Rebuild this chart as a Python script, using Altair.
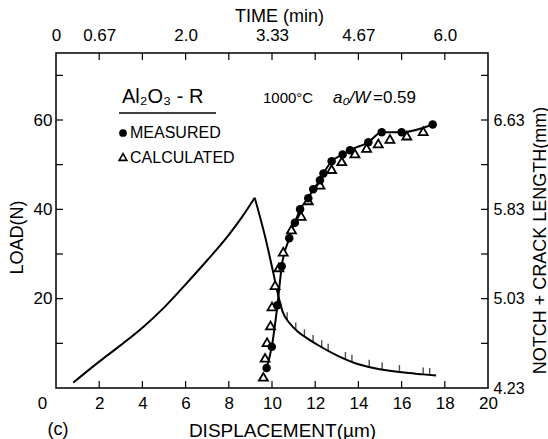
import altair as alt
import pandas as pd
import numpy as np

FONT = "Liberation Sans"

# ---- data ----
# load-displacement curve (left axis, N): rising branch then falling branch
rise_disp = [0.8, 2.0, 3.0, 4.0, 5.0, 6.0, 7.0, 8.0, 8.6, 9.2]
rise_load = [1.2, 5.9, 9.6, 13.5, 18.0, 23.2, 28.6, 34.3, 38.2, 42.6]
fall_disp = [9.2, 9.7, 10.05, 10.3, 10.5, 10.8, 11.2, 11.7, 12.2, 13.0, 14.0,
             15.0, 16.0, 17.0, 17.6]
fall_load = [42.6, 33.5, 26.0, 20.5, 17.0, 14.6, 12.6, 10.9, 9.4, 7.3, 5.3,
             4.2, 3.5, 3.05, 2.8]
# small hash marks on the descending branch
hash_disp = [10.7, 11.1, 11.5, 11.9, 12.3, 12.6, 13.4, 13.7, 14.5, 15.1, 15.9, 17.0, 17.3]

# notch + crack length (right axis, mm)
meas_disp = [9.75, 9.99, 10.25, 10.45, 10.8, 11.06, 11.3, 11.68, 11.91, 12.22, 12.38,
             12.76, 13.27, 13.61, 14.46, 15.08, 16.0, 17.44]
meas_crack = [4.41, 4.60, 4.97, 5.32, 5.57, 5.71, 5.83, 5.93, 6.01, 6.09, 6.15,
              6.26, 6.32, 6.36, 6.43, 6.52, 6.52, 6.59]
calc_disp = [9.60, 9.68, 9.77, 9.93, 10.0, 10.14, 10.32, 10.52, 10.9, 11.35, 11.68,
             12.22, 12.76, 13.23, 13.84, 14.38, 14.92, 15.46, 16.24, 17.0]
calc_crack = [4.33, 4.50, 4.64, 4.79, 4.96, 5.15, 5.31, 5.45, 5.65, 5.77, 5.91,
              6.05, 6.19, 6.26, 6.33, 6.38, 6.42, 6.46, 6.49, 6.53]

# axes
x_tick_values = [0, 2, 4, 6, 8, 10, 12, 14, 16, 18, 20]
x_minor = [2, 4, 6, 8, 10, 12, 14, 16, 18]
load_label_values = [20, 40, 60]
load_minor = [10, 20, 30, 40, 50, 60, 70]
crack_label_values = [4.23, 5.03, 5.83, 6.63]
time_tick_disp = [0, 2, 6, 10, 14, 18]
time_tick_labels = ["0", "0.67", "2.0", "3.33", "4.67", "6.0"]

X_DOMAIN = [0, 20]
LOAD_DOMAIN = [0, 75]
CRACK_DOMAIN = [4.23, 7.23]

W, H = 432, 335

# ---- frames ----
rise_df = pd.DataFrame({"disp": rise_disp, "load": rise_load})
fall_df = pd.DataFrame({"disp": fall_disp, "load": fall_load})
hash_df = pd.DataFrame({"disp": hash_disp,
                        "load": np.interp(hash_disp, fall_disp, fall_load)})
meas_df = pd.DataFrame({"disp": meas_disp, "crack": meas_crack})
calc_df = pd.DataFrame({"disp": calc_disp, "crack": calc_crack})
xminor_df = pd.DataFrame({"disp": x_minor})
yminor_df = pd.DataFrame({"load": load_minor})

xscale = alt.Scale(domain=X_DOMAIN, nice=False, zero=False)
lscale = alt.Scale(domain=LOAD_DOMAIN, nice=False, zero=False)
cscale = alt.Scale(domain=CRACK_DOMAIN, nice=False, zero=False)

bottom_axis = alt.Axis(
    orient="bottom", values=x_tick_values, title="DISPLACEMENT(µm)",
    domain=False, ticks=False, grid=False, labelFlush=False,
    labelFontSize=17, labelPadding=7,
    labelOffset={"condition": {"test": "datum.value == 0", "value": -14}, "value": 0},
    titleFontSize=19, titleX=226, titleY=42, titleAlign="center", titleBaseline="middle",
)
top_expr = " : ".join(f"datum.value == {d} ? '{l}'" for d, l in zip(time_tick_disp, time_tick_labels)) + " : ''"
top_axis = alt.Axis(
    orient="top", values=time_tick_disp, labelExpr=top_expr, title="TIME (min)",
    domain=False, ticks=False, grid=False, labelFlush=False,
    labelFontSize=17, labelPadding=9,
    titleFontSize=18, titleX=223, titleY=-37, titleAlign="center", titleBaseline="middle",
)
left_axis = alt.Axis(
    orient="left", values=load_label_values, title="LOAD(N)",
    domain=False, ticks=False, grid=False, labelFlush=False,
    labelFontSize=17, labelPadding=4,
    titleFontSize=18, titleX=-39, titleY=184, titleAngle=270,
    titleAlign="center", titleBaseline="middle",
)
right_axis = alt.Axis(
    orient="right", values=crack_label_values, format=".2f",
    title="NOTCH + CRACK LENGTH(mm)",
    domain=False, ticks=False, grid=False, labelFlush=False,
    labelFontSize=16, labelPadding=5,
    titleFontSize=18, titleX=52, titleY=187, titleAngle=270,
    titleAlign="center", titleBaseline="middle",
)

def xb():
    return alt.X("disp:Q", scale=xscale, axis=bottom_axis)

def xt():
    return alt.X("disp:Q", scale=xscale, axis=top_axis)

def yl():
    return alt.Y("load:Q", scale=lscale, axis=left_axis)

def yc():
    return alt.Y("crack:Q", scale=cscale, axis=right_axis)

# ---- load group ----
rise_line = alt.Chart(rise_df).mark_line(color="black", strokeWidth=2, interpolate="monotone").encode(
    x=xb(), y=yl(), order=alt.Order("disp:Q"))
fall_line = alt.Chart(fall_df).mark_line(color="black", strokeWidth=2, interpolate="monotone").encode(
    x=xb(), y=yl(), order=alt.Order("disp:Q"))
hash_marks = alt.Chart(hash_df).mark_tick(
    orient="vertical", color="black", size=7, thickness=1.4, yOffset=-3.5
).encode(x=xb(), y=yl())
top_ticks = alt.Chart(xminor_df).mark_rule(color="black", strokeWidth=1.2).encode(
    x=xb(), y=alt.value(0), y2=alt.value(7))
bot_ticks = alt.Chart(xminor_df).mark_rule(color="black", strokeWidth=1.2).encode(
    x=xb(), y=alt.value(H), y2=alt.value(H - 7))
left_ticks = alt.Chart(yminor_df).mark_rule(color="black", strokeWidth=1.2).encode(
    y=yl(), x=alt.value(0), x2=alt.value(7))
right_ticks = alt.Chart(yminor_df).mark_rule(color="black", strokeWidth=1.2).encode(
    y=yl(), x=alt.value(W), x2=alt.value(W - 7))
load_group = alt.layer(rise_line, fall_line, hash_marks, top_ticks, bot_ticks, left_ticks, right_ticks)

# ---- crack group ----
crack_line = alt.Chart(meas_df).mark_line(color="black", strokeWidth=2, interpolate="monotone").encode(
    x=xt(), y=yc())
calc_pts = alt.Chart(calc_df).mark_point(
    shape="triangle-up", filled=True, fill="white", stroke="black", strokeWidth=1.8, size=80, opacity=1
).encode(x=xt(), y=yc())
meas_pts = alt.Chart(meas_df).mark_point(
    shape="circle", filled=True, color="black", size=72, opacity=1
).encode(x=xt(), y=yc())
crack_group = alt.layer(crack_line, calc_pts, meas_pts)

# ---- annotations ----
def label(text, x, y, size, style="normal", font=FONT, align="left"):
    return alt.Chart(pd.DataFrame({"t": [text]})).mark_text(
        font=font, fontSize=size, fontStyle=style, align=align, baseline="middle", color="black"
    ).encode(text="t:N", x=alt.value(x), y=alt.value(y))

annots = [
    label("Al₂O₃ - R", 66, 44, 20),
    alt.Chart(pd.DataFrame({"a": [0]})).mark_rule(color="black", strokeWidth=1.5).encode(
        x=alt.value(63), x2=alt.value(160), y=alt.value(60)),
    label("1000°C", 207, 45, 15),
    label("a₀/W", 277, 45, 17, style="italic"),
    label("=0.59", 317, 45, 17),
    alt.Chart(pd.DataFrame({"a": [0]})).mark_point(
        shape="circle", filled=True, color="black", size=60, opacity=1
    ).encode(x=alt.value(67), y=alt.value(80)),
    label("MEASURED", 74, 80, 16),
    alt.Chart(pd.DataFrame({"a": [0]})).mark_point(
        shape="triangle-up", filled=True, fill="white", stroke="black", strokeWidth=1.6, size=60, opacity=1
    ).encode(x=alt.value(67), y=alt.value(104)),
    label("CALCULATED", 74, 105, 16),
    label("(c)", 2, 377, 18, align="center"),
]

chart = alt.layer(load_group, crack_group, *annots).resolve_scale(
    y="independent"
).resolve_axis(
    x="independent", y="independent"
).properties(
    width=W, height=H,
    padding={"left": 56, "top": 53, "right": 60, "bottom": 51},
    autosize=alt.AutoSizeParams(type="none"),
    background="white",
).configure_view(
    stroke="black", strokeWidth=1.5
).configure_axis(
    labelFont=FONT, titleFont=FONT, titleFontWeight="normal",
    labelColor="black", titleColor="black",
)

chart.save("out.html", embed_options={"renderer": "svg", "actions": False})
